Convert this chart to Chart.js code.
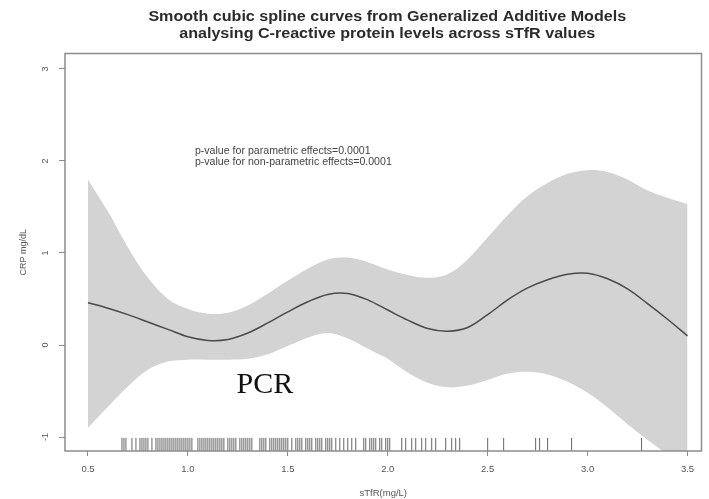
<!DOCTYPE html>
<html>
<head>
<meta charset="utf-8">
<script src="https://cdn.jsdelivr.net/npm/chart.js@4.4.1/dist/chart.umd.min.js"></script>
<style>
  html, body { margin: 0; padding: 0; background: #ffffff; }
  #wrap { width: 709px; height: 499px; }
</style>
</head>
<body>
<div id="wrap"><canvas id="gamChart" width="709" height="499"></canvas></div>
<script>
const sTfRGrid = [0.5, 0.6, 0.7, 0.8, 0.9, 1.0, 1.1, 1.2, 1.3, 1.4, 1.5, 1.6, 1.7, 1.8, 1.9, 2.0,
                  2.1, 2.2, 2.3, 2.4, 2.5, 2.6, 2.7, 2.8, 2.9, 3.0, 3.1, 3.2, 3.3, 3.4, 3.5];
const fitCRP  = [0.46, 0.40, 0.33, 0.25, 0.17, 0.09, 0.05, 0.06, 0.13, 0.24, 0.36, 0.47, 0.55, 0.56, 0.49, 0.38,
                 0.27, 0.18, 0.15, 0.19, 0.33, 0.49, 0.62, 0.71, 0.77, 0.78, 0.72, 0.61, 0.45, 0.28, 0.10];
const upperCI = [1.80, 1.45, 1.06, 0.73, 0.50, 0.39, 0.34, 0.35, 0.43, 0.56, 0.70, 0.83, 0.93, 0.95, 0.90, 0.82,
                 0.76, 0.73, 0.77, 0.93, 1.17, 1.41, 1.62, 1.76, 1.86, 1.90, 1.88, 1.80, 1.68, 1.60, 1.53];
const lowerCI = [-0.90, -0.67, -0.45, -0.27, -0.18, -0.16, -0.16, -0.16, -0.15, -0.10, -0.01, 0.08, 0.13, 0.07, -0.04, -0.15,
                 -0.30, -0.41, -0.46, -0.44, -0.38, -0.31, -0.29, -0.32, -0.40, -0.52, -0.68, -0.86, -1.03, -1.19, -1.35];

// rug of observed sTfR values
const rugSTfR = [0.67, 0.68, 0.69, 0.72, 0.74, 0.76, 0.77, 0.78, 0.79, 0.80, 0.82, 0.84, 0.85, 0.86, 0.87, 0.88,
                 0.89, 0.90, 0.91, 0.92, 0.93, 0.94, 0.95, 0.96, 0.97, 0.98, 0.99, 1.00, 1.01, 1.02, 1.05, 1.06,
                 1.07, 1.08, 1.09, 1.10, 1.11, 1.12, 1.13, 1.14, 1.15, 1.16, 1.17, 1.18, 1.20, 1.21, 1.22, 1.23,
                 1.24, 1.26, 1.27, 1.28, 1.29, 1.30, 1.31, 1.32, 1.36, 1.37, 1.38, 1.39, 1.41, 1.42, 1.43, 1.44,
                 1.45, 1.46, 1.47, 1.48, 1.49, 1.50, 1.52, 1.54, 1.55, 1.56, 1.57, 1.59, 1.60, 1.61, 1.62, 1.64,
                 1.65, 1.66, 1.67, 1.69, 1.70, 1.71, 1.72, 1.74, 1.76, 1.78, 1.80, 1.82, 1.84, 1.88, 1.89, 1.91,
                 1.92, 1.93, 1.94, 1.96, 1.97, 1.99, 2.00, 2.01, 2.07, 2.09, 2.12, 2.14, 2.17, 2.19, 2.22, 2.24,
                 2.29, 2.32, 2.34, 2.36, 2.50, 2.58, 2.74, 2.76, 2.80, 2.92, 3.27];

const xTicks = [0.5, 1.0, 1.5, 2.0, 2.5, 3.0, 3.5];
const yTicks = [-1, 0, 1, 2, 3];

const titleLines = ['Smooth cubic spline curves from Generalized Additive Models',
                    'analysing C-reactive protein levels across sTfR values'];
const pValueLines = ['p-value for parametric effects=0.0001',
                     'p-value for non-parametric effects=0.0001'];

const colorBand  = '#d3d3d3';
const colorFit   = '#4a4a4a';
const colorAxis  = '#8c8c8c';
const colorText  = '#555555';
const fontSans   = '"Liberation Sans", Arial, sans-serif';

const toXY = (ys) => sTfRGrid.map((x, i) => ({ x: x, y: ys[i] }));

// text stretched a little sideways, as in the (resized) original figure
function wideText(ctx, text, x, y, stretch) {
  ctx.save();
  ctx.translate(x, y);
  ctx.scale(stretch, 1);
  ctx.fillText(text, 0, 0);
  ctx.restore();
}

// frame, rotated y labels, title and in-plot notes (R base graphics style)
const rDecor = {
  id: 'rDecor',
  afterDraw(chart) {
    const ctx = chart.ctx;
    const a = chart.chartArea;
    const xs = chart.scales.x;
    const ys = chart.scales.y;
    ctx.save();

    ctx.strokeStyle = colorAxis;
    ctx.lineWidth = 1.5;
    ctx.strokeRect(a.left, a.top, a.right - a.left, a.bottom - a.top);

    ctx.fillStyle = colorText;
    ctx.font = '9px ' + fontSans;
    ctx.textAlign = 'center';
    ctx.textBaseline = 'middle';
    yTicks.forEach(v => {
      ctx.save();
      ctx.translate(a.left - 19, ys.getPixelForValue(v));
      ctx.rotate(-Math.PI / 2);
      ctx.fillText(String(v), 0, 0);
      ctx.restore();
    });

    ctx.fillStyle = '#2b2b2b';
    ctx.font = 'bold 14px ' + fontSans;
    const cx = (a.left + a.right) / 2 + 4;
    wideText(ctx, titleLines[0], cx, 17, 1.15);
    wideText(ctx, titleLines[1], cx, 34, 1.15);

    ctx.fillStyle = '#444444';
    ctx.font = '10px ' + fontSans;
    ctx.textAlign = 'left';
    wideText(ctx, pValueLines[0], xs.getPixelForValue(1.035), ys.getPixelForValue(2.11), 1.06);
    wideText(ctx, pValueLines[1], xs.getPixelForValue(1.035), ys.getPixelForValue(1.99), 1.06);

    ctx.fillStyle = '#111111';
    ctx.font = '30px "Liberation Serif", "Times New Roman", serif';
    ctx.textAlign = 'center';
    ctx.textBaseline = 'alphabetic';
    ctx.fillText('PCR', xs.getPixelForValue(1.385), ys.getPixelForValue(-0.52));
    ctx.restore();
  }
};

new Chart(document.getElementById('gamChart'), {
  type: 'line',
  data: {
    datasets: [
      {
        label: 'upper',
        data: toXY(upperCI),
        borderWidth: 0,
        pointRadius: 0,
        tension: 0.35,
        backgroundColor: colorBand,
        fill: '+1',
        order: 3
      },
      {
        label: 'lower',
        data: toXY(lowerCI),
        borderWidth: 0,
        pointRadius: 0,
        tension: 0.35,
        fill: false,
        order: 2
      },
      {
        label: 'fit',
        data: toXY(fitCRP),
        borderColor: colorFit,
        borderWidth: 1.5,
        pointRadius: 0,
        tension: 0.35,
        fill: false,
        order: 1
      },
      {
        type: 'scatter',
        label: 'rug',
        data: rugSTfR.map(x => ({ x: x, y: -1.08 })),
        pointStyle: 'line',
        rotation: 90,
        pointRadius: 6.5,
        borderColor: '#666666',
        borderWidth: 1,
        order: 0
      }
    ]
  },
  options: {
    responsive: false,
    animation: false,
    layout: { padding: { top: 53.5, right: 7, left: 0, bottom: 0 } },
    plugins: {
      legend: { display: false },
      tooltip: { enabled: false },
      filler: { drawTime: 'beforeDatasetsDraw' }
    },
    scales: {
      x: {
        type: 'linear',
        min: 0.385,
        max: 3.57,
        afterFit: (s) => { s.height = 48; },
        afterBuildTicks: (s) => { s.ticks = xTicks.map(v => ({ value: v })); },
        grid: { drawOnChartArea: false, drawTicks: true, tickLength: 5, color: colorAxis },
        border: { display: false },
        ticks: {
          color: colorText,
          padding: 8,
          font: { family: fontSans, size: 9.5 },
          maxRotation: 0,
          callback: (v) => Number(v).toFixed(1)
        },
        title: {
          display: true,
          text: 'sTfR(mg/L)',
          color: colorText,
          font: { family: fontSans, size: 9.5 },
          padding: { top: 0, bottom: 0 }
        }
      },
      y: {
        type: 'linear',
        min: -1.152,
        max: 3.168,
        afterFit: (s) => { s.width = 65; },
        afterBuildTicks: (s) => { s.ticks = yTicks.map(v => ({ value: v })); },
        grid: { drawOnChartArea: false, drawTicks: true, tickLength: 6, color: colorAxis },
        border: { display: false },
        ticks: { display: false },
        title: {
          display: true,
          text: 'CRP mg/dL',
          color: colorText,
          font: { family: fontSans, size: 9 },
          padding: { top: 18, bottom: 0 }
        }
      }
    }
  },
  plugins: [rDecor]
});
</script>
</body>
</html>
